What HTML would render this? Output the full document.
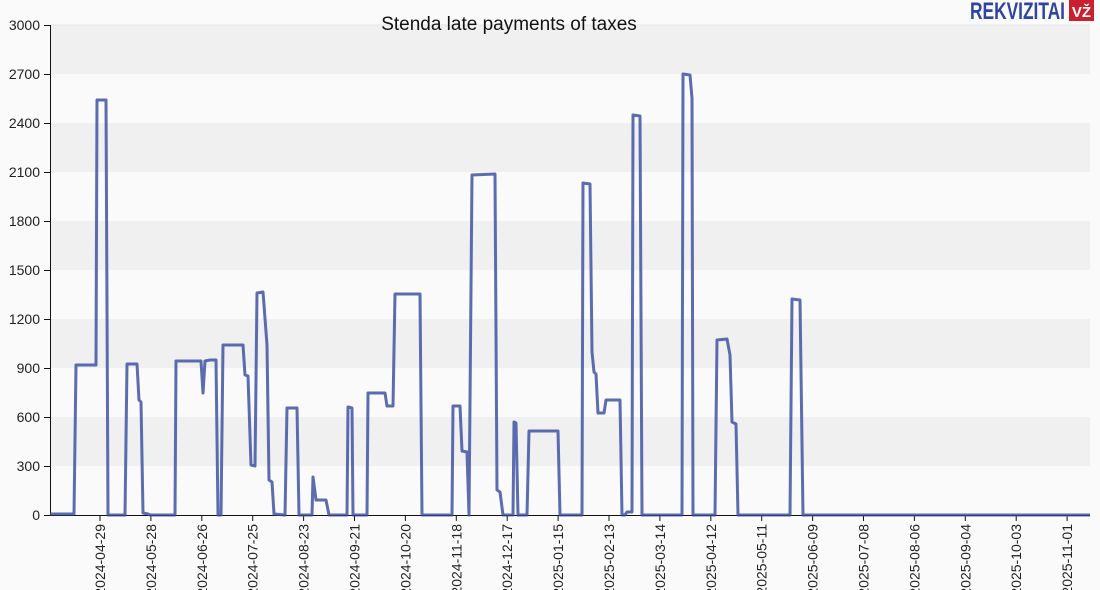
<!DOCTYPE html>
<html><head><meta charset="utf-8"><style>
html,body{margin:0;padding:0;background:#fafafa;}
svg{display:block;font-family:"Liberation Sans",sans-serif;}
</style></head><body>
<svg width="1100" height="590" viewBox="0 0 1100 590">
<rect width="1100" height="590" fill="#fafafa"/>
<g fill="#f0f0f0">
<rect x="50" y="25" width="1040" height="49"/>
<rect x="50" y="123" width="1040" height="49"/>
<rect x="50" y="221" width="1040" height="49"/>
<rect x="50" y="319" width="1040" height="49"/>
<rect x="50" y="417" width="1040" height="49"/>
</g>
<line x1="50" y1="25" x2="1090" y2="25" stroke="#e6e6e6"/>
<g font-size="14" fill="#222" text-anchor="end">
<text x="40" y="30">3000</text><text x="40" y="79">2700</text><text x="40" y="128">2400</text>
<text x="40" y="177">2100</text><text x="40" y="226">1800</text><text x="40" y="275">1500</text>
<text x="40" y="324">1200</text><text x="40" y="373">900</text><text x="40" y="422">600</text>
<text x="40" y="471">300</text><text x="40" y="520">0</text>
</g>
<g stroke="#111" stroke-width="1">
<line x1="50.5" y1="25" x2="50.5" y2="515"/>
<line x1="44" y1="515.5" x2="1090" y2="515.5"/>
<line x1="44" y1="25.5" x2="50" y2="25.5"/><line x1="44" y1="74.5" x2="50" y2="74.5"/>
<line x1="44" y1="123.5" x2="50" y2="123.5"/><line x1="44" y1="172.5" x2="50" y2="172.5"/>
<line x1="44" y1="221.5" x2="50" y2="221.5"/><line x1="44" y1="270.5" x2="50" y2="270.5"/>
<line x1="44" y1="319.5" x2="50" y2="319.5"/><line x1="44" y1="368.5" x2="50" y2="368.5"/>
<line x1="44" y1="417.5" x2="50" y2="417.5"/><line x1="44" y1="466.5" x2="50" y2="466.5"/>
</g>
<g id="xt" font-size="14" fill="#222" text-anchor="end"></g>
<polyline fill="none" stroke="#34489e" stroke-opacity="0.8" stroke-width="3" stroke-linejoin="round" points="
50,514 74,514 76,365 96,365 97,100 106,100 108,515 125,515 127,364 137,364 139,400 141,402 143,513 148,514 150,515 175,515 176,361 201,361 203,393 205,361 210,360 216,360 218,515 221,515 223,345 243,345 245,375 248,376 251,465 255,466 257,293 263,292 267,345 269,480 272,482 274,514 285,515 287,408 297,408 299,515 312,515 313,477 316,500 326,500 329,515 347,515 348,407 352,408 353,515 367,515 368,393 385,393 387,406 393,406 395,294 420,294 422,515 452,515 453,406 460,406 462,451 467,452 469,515 472,175 495,174 497,490 500,492 503,515 513,515 514,422 516,423 518,515 527,515 529,431 558,431 560,515 582,515 583,183 590,184 592,352 594,372 596,374 598,413 604,413 606,400 620,400 622,515 625,515 627,512 632,512 633,115 640,116 642,515 682,515 683,74 690,75 692,98 693,515 715,515 717,340 727,339 730,355 732,422 736,424 738,515 790,515 792,299 800,300 803,515 850,515 1090,515"/>
<text x="509" y="30" font-size="19" text-anchor="middle" fill="#111">Stenda late payments of taxes</text>
<text x="970" y="19" font-size="24" font-weight="bold" fill="#2f44a0" textLength="95" lengthAdjust="spacingAndGlyphs">REKVIZITAI</text>
<rect x="1069" y="0" width="25" height="21" fill="#c8202f"/>
<text x="1081.5" y="17" font-size="15" font-weight="bold" text-anchor="middle" fill="#fff">VŽ</text>
</svg>
<script>
var d=["2024-04-29","2024-05-28","2024-06-26","2024-07-25","2024-08-23","2024-09-21","2024-10-20","2024-11-18","2024-12-17","2025-01-15","2025-02-13","2025-03-14","2025-04-12","2025-05-11","2025-06-09","2025-07-08","2025-08-06","2025-09-04","2025-10-03","2025-11-01"];
var g=document.getElementById("xt"),NS="http://www.w3.org/2000/svg";
d.forEach(function(t,i){var x=100+i*50.9;
var l=document.createElementNS(NS,"line");l.setAttribute("x1",x);l.setAttribute("x2",x);l.setAttribute("y1",515);l.setAttribute("y2",521);l.setAttribute("stroke","#111");g.appendChild(l);
var e=document.createElementNS(NS,"text");e.setAttribute("transform","translate("+(x+5)+",524) rotate(-90)");e.textContent=t;g.appendChild(e);});
</script>
</body></html>
